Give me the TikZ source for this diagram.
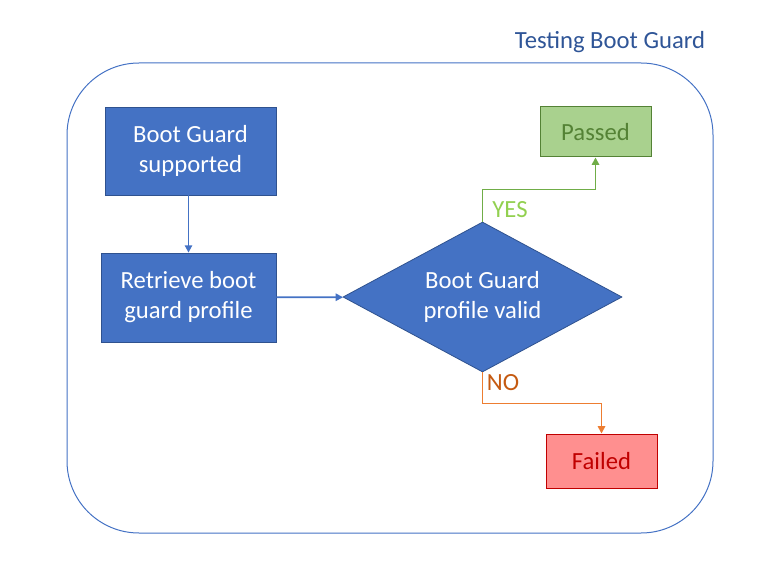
\documentclass[tikz,border=0pt]{standalone}
\usepackage{fontspec}
\setmainfont{Carlito}
\usetikzlibrary{arrows.meta,shapes.geometric}

\definecolor{boxblue}{HTML}{4472C4}
\definecolor{edgeblue}{HTML}{2F528F}
\definecolor{titleblue}{HTML}{2F5597}
\definecolor{passfill}{HTML}{A9D18E}
\definecolor{passedge}{HTML}{548235}
\definecolor{yesgreen}{HTML}{70AD47}
\definecolor{yestext}{HTML}{92D050}
\definecolor{failfill}{HTML}{FF8F8F}
\definecolor{failedge}{HTML}{C00000}
\definecolor{noorange}{HTML}{ED7D31}
\definecolor{notext}{HTML}{C55A11}

\begin{document}
\begin{tikzpicture}[x=0.75pt, y=-0.75pt, >={Triangle[length=5.5pt,width=5.5pt]},
   font=\fontsize{18.5}{22.5}\selectfont,
   stepbox/.style={rectangle, draw=edgeblue, fill=boxblue, text=white, align=center, line width=0.6pt},
   checkbox/.style={diamond, shape aspect=1.86, draw=edgeblue, fill=boxblue, text=white, align=center, inner sep=0pt, line width=0.6pt},
   result/.style={rectangle, minimum width=83.25pt, line width=0.75pt},
   link/.style={->, line width=1.3pt}]
   \useasboundingbox (0,0) rectangle (781,563);
   \draw [boxblue, line width=0.75pt, rounded corners=54pt] (67,63) rectangle (713,533);
   \node (title) at (610,42) [text=titleblue] {Testing Boot Guard};
   \node (s1) at (190.5,151) [stepbox, minimum width=128.25pt, minimum height=66pt] {Boot Guard\\supported};
   \node (s2) at (188.5,297.5) [stepbox, minimum width=131.25pt, minimum height=66.75pt] {Retrieve boot\\guard profile};
   \node (s3) at (482.5,297) [checkbox, minimum width=209.25pt, minimum height=112.5pt] {Boot Guard\\profile valid};
   \node (pass) at (595.5,132) [result, draw=passedge, fill=passfill, text=passedge, minimum height=37.5pt] {Passed};
   \node (fail) at (601.5,461) [result, draw=failedge, fill=failfill, text=failedge, minimum height=40.5pt] {Failed};
   \draw [link, boxblue] (s1.south -| s2.north) -- (s2.north);
   \draw [link, boxblue] (s2) -- (s3);
   \draw [link, yesgreen] (s3.north) -- ++(0,-32) -| (pass.south);
   \draw [link, noorange] (s3.south) -- ++(0,31) -| (fail.north);
   \node (yes) at (510,210) [text=yestext] {YES};
   \node (no) at (503,383) [text=notext] {NO};
\end{tikzpicture}
\end{document}
